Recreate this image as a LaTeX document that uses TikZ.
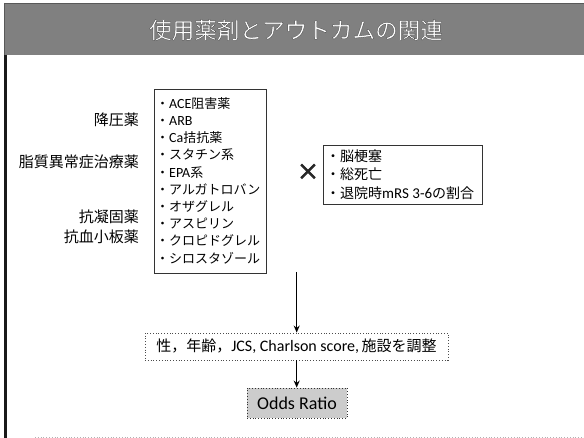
\documentclass[tikz,border=0pt]{standalone}
\usepackage{fontspec}
\setmainfont{Noto Sans CJK JP}
\newfontfamily\lat{Carlito}
\usetikzlibrary{arrows.meta}
\font\titlefnt="Noto Sans CJK JP:embolden=1.1" at 22.6pt
\font\crossfnt="Noto Sans CJK JP:embolden=4" at 22pt
\begin{document}
\begin{tikzpicture}[x=1pt,y=-1pt,
  lbl/.style={anchor=east,inner sep=0pt,font=\fontsize{15}{19}\selectfont,align=right},
  listbox/.style={draw=black!80,line width=0.8pt,inner sep=0pt},
  conn/.style={draw=black,line width=1.3pt,-{Stealth[length=7pt,width=6pt]}},
  dotbox/.style={draw=black!70,dotted,line width=0.8pt,inner sep=0pt}]
\useasboundingbox (0,0) rectangle (584,438);
\fill[white] (0,0) rectangle (584,438);
% title bar
\fill[black!50] (4,3) rectangle (584,55);
\draw[black!65,line width=0.8pt] (4,3.4) -- (584,3.4);
\draw[black!65,line width=0.8pt] (4.4,3) -- (4.4,55);
\node[inner sep=0pt] (title) at (296,30) {\color{white}\special{pdf:code 0.2 G}\titlefnt 使用薬剤とアウトカムの関連};
% left dark bar and bottom line
\draw[black!90,line width=2.5pt] (5.5,55) -- (5.5,438);
\draw[black!30,dotted,line width=0.8pt] (35,437) -- (584,437);
% left labels
\node[lbl] (l1) at (139,120) {降圧薬};
\node[lbl] (l2) at (139,162) {脂質異常症治療薬};
\node[lbl] (l3) at (139,217) {抗凝固薬};
\node[lbl] (l4) at (139,237) {抗血小板薬};
% drug list
\node[listbox,anchor=north west,minimum width=112pt,minimum height=184pt] (drugs) at (154,89) {};
\node[anchor=west,inner sep=0pt,align=left,font=\fontsize{13}{17.2}\selectfont] (druglist) at (156,180.5) {%
・{\lat\fontsize{14}{17}\selectfont ACE}阻害薬\\
・{\lat\fontsize{14}{17}\selectfont ARB}\\
・{\lat\fontsize{14}{17}\selectfont Ca}拮抗薬\\
・スタチン系\\
・{\lat\fontsize{14}{17}\selectfont EPA}系\\
・アルガトロバン\\
・オザグレル\\
・アスピリン\\
・クロピドグレル\\
・シロスタゾール};
% cross
\node[inner sep=0pt,text=black!85] (cross) at (308,172) {\crossfnt ×};
% outcome
\node[listbox,anchor=north west,minimum width=159pt,minimum height=59pt] (outbox) at (323,145) {};
\node[anchor=west,inner sep=0pt,align=left,font=\fontsize{14}{18.5}\selectfont] (outlist) at (326,174.5) {%
・脳梗塞\\
・総死亡\\
・退院時{\lat\fontsize{15}{18}\selectfont mRS 3-6}の割合};
% adjustment box
\node[dotbox,minimum width=303pt,minimum height=27pt,font=\fontsize{15}{18}\selectfont] (adj) at (296.5,346.5) {性，年齢，{\lat\fontsize{16}{18}\selectfont JCS,\ Charlson score,}\,施設を調整};
% odds ratio
\node[dotbox,draw=black!80,fill=black!20,minimum width=100pt,minimum height=30pt,font=\lat\fontsize{18}{20}\selectfont] (odds) at (297,403) {Odds Ratio};
% connectors
\coordinate (start) at (296.7,272);
\draw[conn] (start) -- (start |- adj.north);
\draw[conn] (start |- adj.south) -- (start |- odds.north);
\end{tikzpicture}
\end{document}
